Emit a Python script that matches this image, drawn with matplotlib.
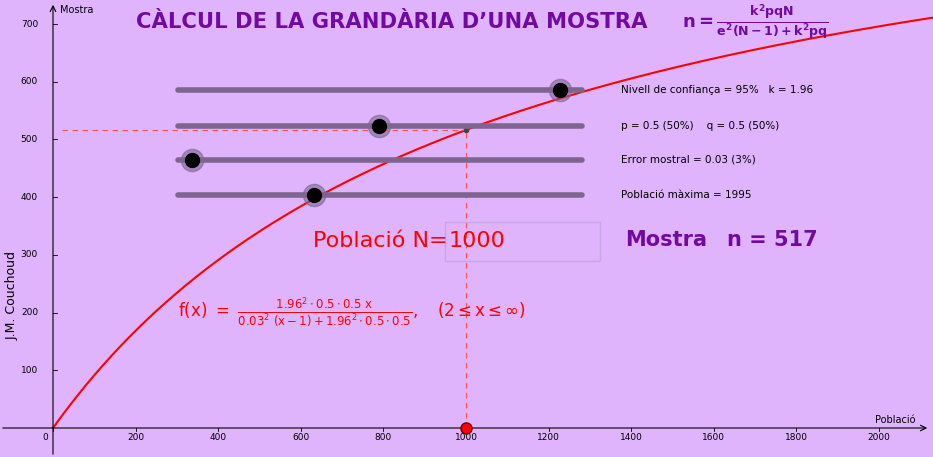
import math
import numpy as np
import matplotlib.pyplot as plt

# data
confidence_k = 1.96
p_val = 0.5
q_val = 0.5
error_e = 0.03
population_N = 1000
max_population = 1995
x_ticks = [0, 200, 400, 600, 800, 1000, 1200, 1400, 1600, 1800, 2000]
y_ticks = [100, 200, 300, 400, 500, 600, 700]
slider_labels = ["Nivell de confiança = 95%   k = 1.96",
                 "p = 0.5 (50%)    q = 0.5 (50%)",
                 "Error mostral = 0.03 (3%)",
                 "Població màxima = 1995"]
slider_knob_px = [560, 379, 192, 314]
slider_y_px = [90, 126, 160, 195]

def px(x): return (x - 53) / 0.413
def py(y): return (428 - y) / 0.577

def f(x):
    return confidence_k**2*p_val*q_val*x/(error_e**2*(x-1)+confidence_k**2*p_val*q_val)

n_sample = f(population_N)

bg = '#dfb4fd'
fig = plt.figure(figsize=(9.33, 4.57), dpi=100, facecolor=bg)
ax = fig.add_axes([0, 0, 1, 1])
ax.set_facecolor(bg)
ax.set_xlim(px(0), px(933))
ax.set_ylim(py(457), py(0))
ax.axis('off')

# axes
ax.annotate('', xy=(px(930), 0), xytext=(px(0), 0),
            arrowprops=dict(arrowstyle='->', color='black', lw=0.8))
ax.annotate('', xy=(0, py(2)), xytext=(0, py(457)),
            arrowprops=dict(arrowstyle='->', color='black', lw=0.8))
for t in x_ticks:
    ax.plot([t, t], [0, py(431)], color='black', lw=0.6)
    ax.text(t if t else px(45), py(437), str(t), ha='center', va='center', fontsize=6.5)
for t in y_ticks:
    ax.plot([0, px(57)], [t, t], color='black', lw=0.6)
    ax.text(px(38), t, str(t), ha='right', va='center', fontsize=6.5)
ax.text(px(60), py(10), 'Mostra', fontsize=7, va='center')
ax.text(px(875), py(420), 'Població', fontsize=7, va='center')
ax.text(px(12), py(295), 'J.M. Couchoud', rotation=90, fontsize=9, ha='center', va='center')

# curve
xs = np.linspace(0, px(933), 600)
ax.plot(xs, f(xs), color='red', lw=1.5)

# dashed guides
ax.plot([population_N, population_N], [0, n_sample], color='#ff5050', ls=(0, (5, 4)), lw=0.8)
ax.plot([px(62), population_N], [n_sample, n_sample], color='#ff5050', ls=(0, (5, 4)), lw=0.8)
ax.plot(population_N, n_sample, 'o', color='#444', ms=3)
ax.plot(population_N, 0, 'o', color='red', mec='#600', ms=8, zorder=5)

# sliders
for yp, kp, lab in zip(slider_y_px, slider_knob_px, slider_labels):
    ax.plot([px(178), px(582)], [py(yp), py(yp)], color='#7d6590', lw=4, solid_capstyle='round')
    ax.plot(px(kp), py(yp), 'o', color='#7d6590', ms=16, alpha=0.6)
    ax.plot(px(kp), py(yp), 'o', color='black', ms=10)
    ax.text(px(621), py(yp), lab, fontsize=7.5, va='center')

# titles
purple = '#7209a2'
ax.text(px(392), py(22), 'CÀLCUL DE LA GRANDÀRIA D’UNA MOSTRA', fontsize=15.2, fontweight='bold',
        color=purple, ha='center', va='center')
ax.text(px(755), py(22), r'$\mathbf{n=\frac{k^2pqN}{e^2(N-1)+k^2pq}}$', fontsize=13,
        color=purple, ha='center', va='center')
ax.text(px(313), py(241), 'Població N=', fontsize=16, color='red', va='center')
ax.add_patch(plt.Rectangle((px(445), py(261)), px(600)-px(445), py(222)-py(261),
                           fill=False, ec='#c8a8e0', lw=1))
ax.text(px(449), py(241), str(population_N), fontsize=16, color='red', va='center')
ax.text(px(625), py(240), 'Mostra', fontsize=15, fontweight='bold', color=purple, va='center')
ax.text(px(818), py(240), 'n = %d' % math.ceil(n_sample), fontsize=15, fontweight='bold',
        color=purple, va='center', ha='right')
ax.text(px(178), py(312),
        r'$\mathrm{f(x)}\ =\ \frac{1.96^2\cdot 0.5\cdot 0.5\ \mathrm{x}}{0.03^2\ (\mathrm{x}-1)+1.96^2\cdot 0.5\cdot 0.5},\quad (2\leq \mathrm{x}\leq\infty)$',
        fontsize=12, color='red', va='center')

fig.savefig('out.png', dpi=100, facecolor=bg)
